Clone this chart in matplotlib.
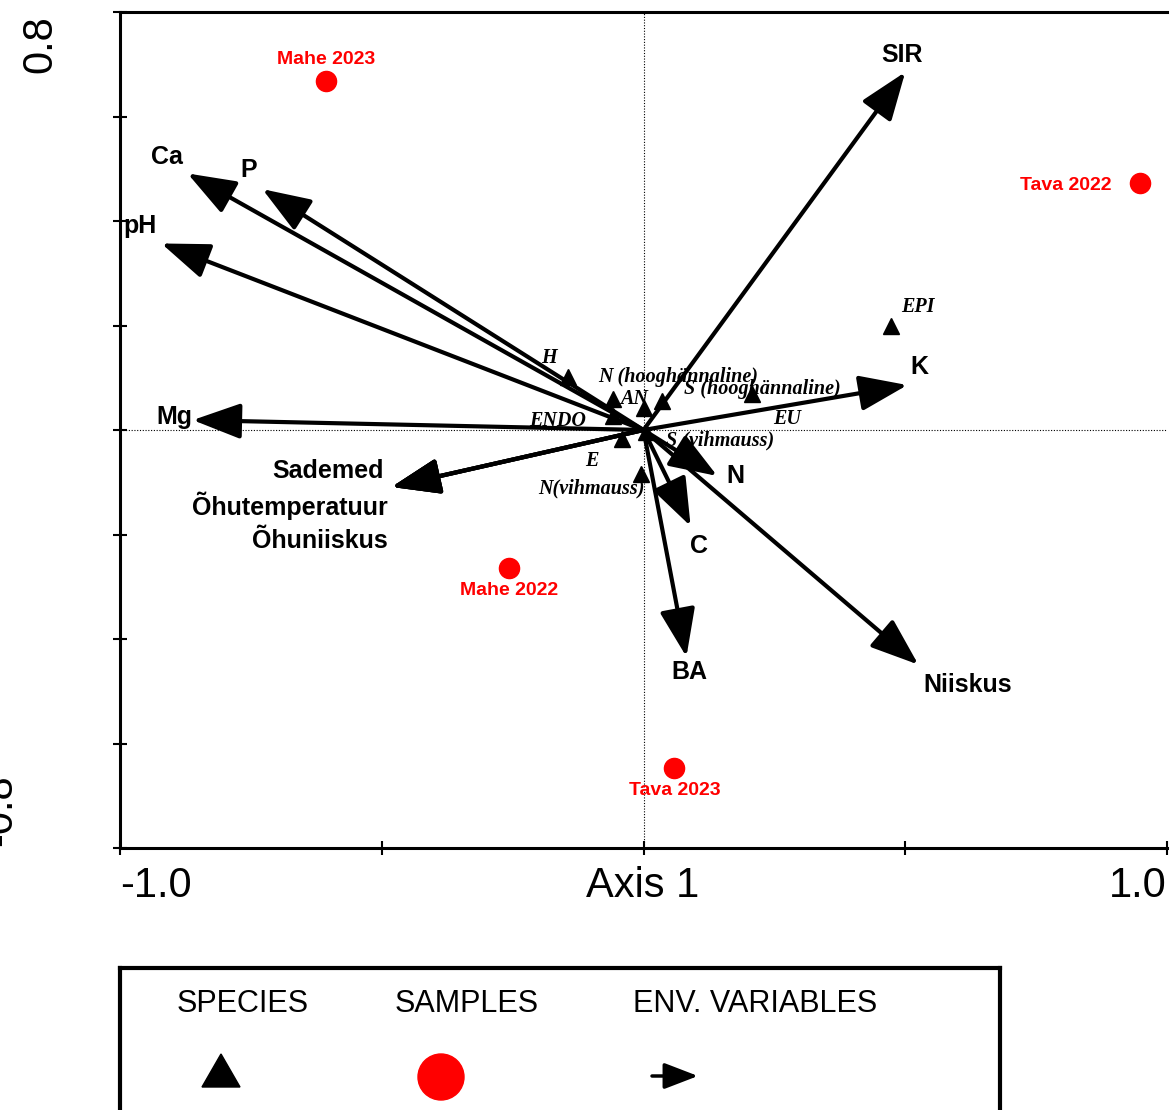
import matplotlib.pyplot as plt
import matplotlib.patches as mpatches

plt.rcParams['font.family'] = ['Liberation Sans', 'DejaVu Sans']

# environmental variables (arrow tips)
env_names = ['SIR', 'Ca', 'P', 'pH', 'Mg', 'Sademed', 'Õhutemperatuur', 'Õhuniiskus',
             'K', 'N', 'C', 'BA', 'Niiskus']
env_x = [0.500, -0.871, -0.728, -0.921, -0.861, -0.481, -0.481, -0.481,
         0.504, 0.141, 0.090, 0.082, 0.525]
env_y = [0.685, 0.491, 0.461, 0.357, 0.019, -0.109, -0.109, -0.109,
         0.086, -0.088, -0.184, -0.434, -0.449]

# samples
sample_names = ['Mahe 2023', 'Tava 2022', 'Mahe 2022', 'Tava 2023']
sample_x = [-0.607, 0.949, -0.256, 0.059]
sample_y = [0.668, 0.472, -0.265, -0.647]

# species
species_names = ['H', 'N (hooghännaline)', 'AN', 'S (hooghännaline)', 'EU', 'ENDO',
                 'E', 'N(vihmauss)', 'S (vihmauss)', 'EPI']
species_x = [-0.145, -0.059, 0.0, 0.036, 0.207, -0.059, -0.042, -0.004, 0.004, 0.472]
species_y = [0.102, 0.060, 0.042, 0.056, 0.069, 0.027, -0.017, -0.084, -0.004, 0.200]

# label offsets in pixels (dx, dy with y down)
env_off = {'SIR': (-3, -17), 'Ca': (-21, -16), 'P': (-14, -19), 'pH': (-21, -17),
           'Mg': (-18, -3), 'Sademed': (-8, -16), 'Õhutemperatuur': (-4, 19),
           'Õhuniiskus': (-4, 54), 'K': (12, -18), 'N': (18, 0), 'C': (8, 20),
           'BA': (3, 15), 'Niiskus': (49, 20)}
sample_off = {'Mahe 2023': (0, -21), 'Tava 2022': (-75, 2), 'Mahe 2022': (0, 22),
              'Tava 2023': (0, 22)}
species_off = {'H': (-19, -19), 'N (hooghännaline)': (66, -22), 'AN': (-10, -9),
               'S (hooghännaline)': (100, -12), 'EU': (35, 25), 'ENDO': (-55, 5),
               'E': (-30, 22), 'N(vihmauss)': (-50, 15), 'S (vihmauss)': (75, 8),
               'EPI': (27, -18)}

W, H = 1170, 1110
fig = plt.figure(figsize=(W / 100, H / 100), dpi=100)
ax = fig.add_axes([120 / W, 1 - 848 / H, 1047 / W, 836 / H])
ax.set_xlim(-1.0, 1.0)
ax.set_ylim(-0.8, 0.8)

pt = 0.72  # px -> points

ax.axhline(0, color='black', lw=0.8, ls=(0, (1, 1.5)), zorder=1)
ax.axvline(0, color='black', lw=0.8, ls=(0, (1, 1.5)), zorder=1)

for name, x, y in zip(env_names, env_x, env_y):
    ax.annotate('', xy=(x, y), xytext=(0, 0),
                arrowprops=dict(arrowstyle='-|>,head_length=1.35,head_width=0.5',
                                mutation_scale=22, lw=3, color='black',
                                shrinkA=0, shrinkB=0), zorder=3)
    dx, dy = env_off[name]
    ha = 'right' if name in ('Sademed', 'Õhutemperatuur', 'Õhuniiskus') else 'center'
    ax.annotate(name, xy=(x, y), xytext=(dx * pt, -dy * pt), textcoords='offset points',
                ha=ha, va='center', fontsize=18, fontweight='bold', zorder=5)

ax.plot(species_x, species_y, '^', color='black', ms=12, zorder=4)
for name, x, y in zip(species_names, species_x, species_y):
    dx, dy = species_off[name]
    ax.annotate(name, xy=(x, y), xytext=(dx * pt, -dy * pt), textcoords='offset points',
                ha='center', va='center', fontsize=14.5, fontweight='bold',
                fontstyle='italic', family='Liberation Serif', zorder=5)

ax.plot(sample_x, sample_y, 'o', color='#ff0000', ms=14.5, zorder=4)
for name, x, y in zip(sample_names, sample_x, sample_y):
    dx, dy = sample_off[name]
    ax.annotate(name, xy=(x, y), xytext=(dx * pt, -dy * pt), textcoords='offset points',
                ha='center', va='center', fontsize=14, fontweight='bold',
                color='#ff0000', zorder=5)

ax.spines['right'].set_visible(False)
for s in ['left', 'bottom', 'top']:
    ax.spines[s].set_linewidth(2.2)
ax.set_xticks([-1.0, -0.5, 0, 0.5, 1.0])
ax.set_yticks([-0.8, -0.6, -0.4, -0.2, 0, 0.2, 0.4, 0.6, 0.8])
ax.tick_params(direction='inout', length=10, width=1.5, labelbottom=False, labelleft=False)

fs = 30
fig.text(120 / W, 1 - 866 / H, '-1.0', ha='left', va='top', fontsize=fs)
fig.text(643 / W, 1 - 866 / H, 'Axis 1', ha='center', va='top', fontsize=fs)
fig.text(1167 / W, 1 - 866 / H, '1.0', ha='right', va='top', fontsize=fs)
fig.text(60 / W, 1 - 15 / H, '0.8', ha='right', va='top', rotation=90, fontsize=fs)
fig.text(20 / W, 1 - 846 / H, '-0.8', ha='right', va='bottom', rotation=90, fontsize=fs)

# legend box
lax = fig.add_axes([120 / W, 0, 880 / W, (H - 968) / H])
lax.set_xlim(0, 880)
lax.set_ylim(H - 968, 0)
for s in ['left', 'right', 'top']:
    lax.spines[s].set_linewidth(3)
lax.spines['bottom'].set_visible(False)
lax.set_xticks([])
lax.set_yticks([])
lax.patch.set_alpha(0)
lax.text(123, 36, 'SPECIES', ha='center', va='center', fontsize=22)
lax.text(347, 36, 'SAMPLES', ha='center', va='center', fontsize=22)
lax.text(635, 36, 'ENV. VARIABLES', ha='center', va='center', fontsize=22)
lax.add_patch(mpatches.Polygon([[82, 119], [120, 119], [101, 86]], closed=True,
                               color='black'))
lax.add_patch(mpatches.Circle((321, 109), 23, color='#ff0000'))
lax.annotate('', xy=(578, 108), xytext=(532, 108),
             arrowprops=dict(arrowstyle='-|>,head_length=1.3,head_width=0.5',
                             mutation_scale=16, lw=2.5, color='black',
                             shrinkA=0, shrinkB=0))

fig.savefig('out.png', dpi=100)
